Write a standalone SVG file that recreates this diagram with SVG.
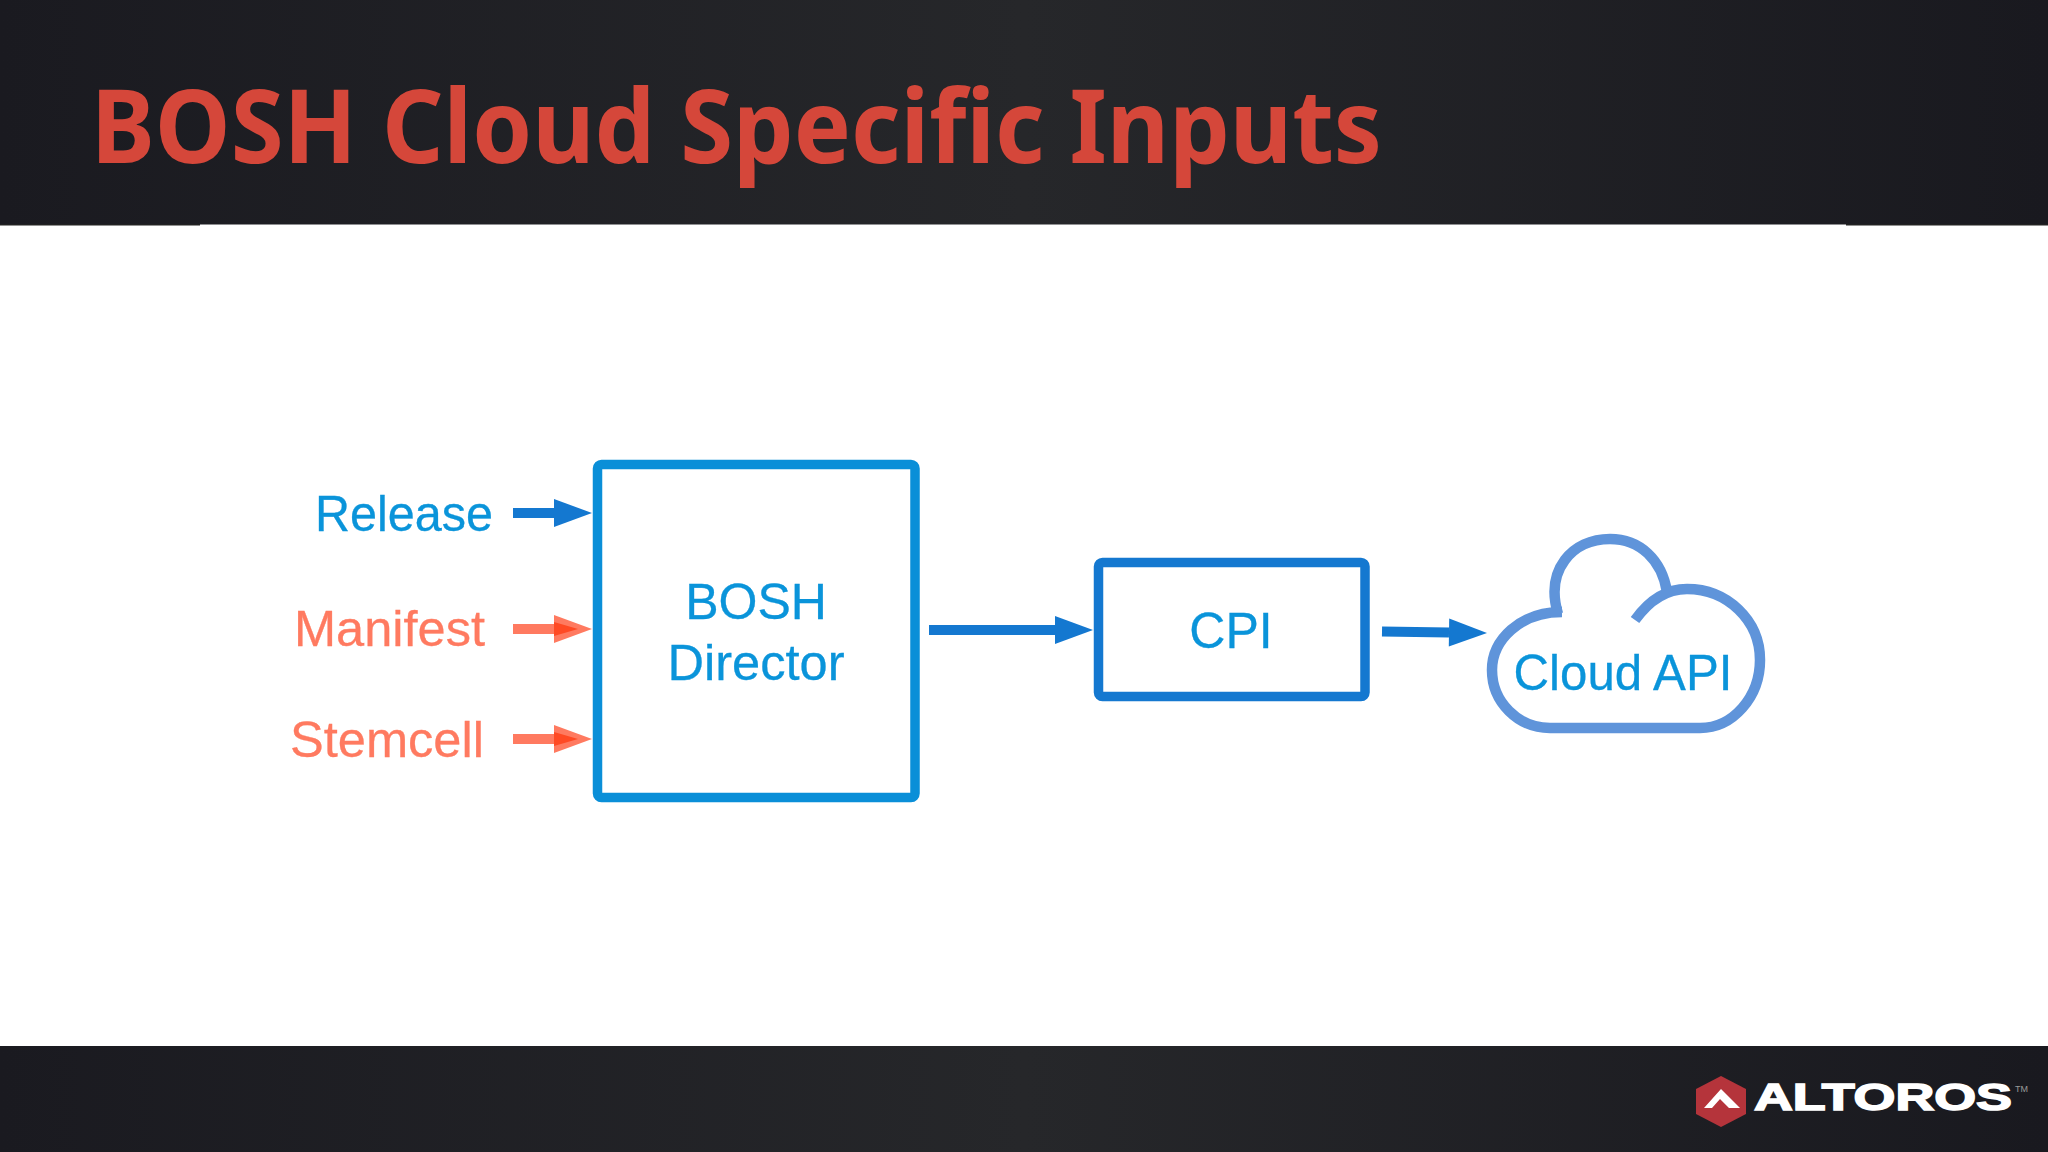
<svg xmlns="http://www.w3.org/2000/svg" width="2048" height="1152" viewBox="0 0 2048 1152">
<defs>
<linearGradient id="band" x1="0" x2="1" y1="0" y2="0"><stop offset="0" stop-color="#1a1a20"/><stop offset="0.5" stop-color="#26272a"/><stop offset="1" stop-color="#19191f"/></linearGradient>
<marker id="blue" markerUnits="userSpaceOnUse" markerWidth="40" markerHeight="30" refX="0" refY="15" orient="auto" overflow="visible"><path d="M0 1L38 15L0 29z" fill="#1478d0"/></marker>
<marker id="red" markerUnits="userSpaceOnUse" markerWidth="40" markerHeight="30" refX="0" refY="15" orient="auto" overflow="visible"><path d="M0 1L38 15L0 29z" fill="#ff7a60"/><path d="M0 8L24 15L0 22z" fill="#ff4a24"/></marker>
</defs>
<style>
text{font-family:"Liberation Sans",Arial,sans-serif}
.blue{fill:#0a94da;stroke:#0a94da;stroke-width:.3}.red{fill:#ff7a60;stroke:#ff7a60;stroke-width:.3}
.lab{font-size:50px}
.box{fill:#fff;stroke-linejoin:round}
.cb{fill:none;stroke:#1478d0;stroke-width:10;marker-end:url(#blue)}
.cr{fill:none;stroke:#ff7a60;stroke-width:10;marker-end:url(#red)}
</style>
<rect width="2048" height="1152" fill="#fff"/>
<rect width="2048" height="224.500" fill="url(#band)"/>
<rect y="224" width="200" height="1.500" fill="#222"/>
<rect x="1846" y="224" width="202" height="1.500" fill="#222"/>
<rect y="1046" width="2048" height="106" fill="url(#band)"/>
<text x="91" y="163" font-size="103" font-weight="700" fill="#d5473a" textLength="1291" lengthAdjust="spacingAndGlyphs" style="font-family:'Noto Sans',sans-serif">BOSH Cloud Specific Inputs</text>
<g id="label-release"><text class="lab blue" x="315" y="531" textLength="178" lengthAdjust="spacingAndGlyphs">Release</text></g>
<g id="label-manifest"><text class="lab red" x="294" y="646" textLength="191" lengthAdjust="spacingAndGlyphs">Manifest</text></g>
<g id="label-stemcell"><text class="lab red" x="290" y="757" textLength="194" lengthAdjust="spacingAndGlyphs">Stemcell</text></g>
<g id="director">
<rect class="box" x="597.500" y="464.500" width="317.500" height="333" rx="4" stroke="#0a8fd8" stroke-width="9.500"/>
<text class="lab blue" x="756" y="619" text-anchor="middle">BOSH</text>
<text class="lab blue" x="756" y="680" text-anchor="middle" textLength="177" lengthAdjust="spacingAndGlyphs">Director</text>
</g>
<g id="cpi">
<rect class="box" x="1098.500" y="562.500" width="266.500" height="134" rx="4" stroke="#1478d0" stroke-width="9.500"/>
<text class="lab blue" x="1231" y="648" text-anchor="middle">CPI</text>
</g>
<g id="cloud">
<path d="M1562 612C1520 612 1492 640 1492 670C1492 702 1518 728 1550 728L1700 728C1733 728 1760 697 1760 660C1760 620 1727 589 1687 589C1665 589 1648 602 1635 620M1558 614C1545 570 1572 539 1610 539C1640 539 1662 560 1667 592" fill="none" stroke="#5f94da" stroke-width="10.500"/>
<text class="lab blue" x="1623" y="690" text-anchor="middle" textLength="219" lengthAdjust="spacingAndGlyphs">Cloud API</text>
</g>
<g id="connectors">
<path class="cb" d="M513 513H554"/>
<path class="cr" d="M513 629H554"/>
<path class="cr" d="M513 739H554"/>
<path class="cb" d="M929 630H1055"/>
<path class="cb" d="M1382 631.500L1449 632.500"/>
</g>
<g id="logo">
<path d="M1721 1076L1746 1089V1114L1721 1127L1696 1114V1089z" fill="#b5343b"/>
<path d="M1704 1108L1721 1089L1740 1108H1729L1720 1099L1712 1108z" fill="#fff"/>
<text x="1754" y="1110" font-size="36" font-weight="700" fill="#fff" textLength="258" lengthAdjust="spacingAndGlyphs" stroke="#fff" stroke-width="1.500">ALTOROS</text>
<text x="2015" y="1092" font-size="9" fill="#999">TM</text>
</g>
</svg>
